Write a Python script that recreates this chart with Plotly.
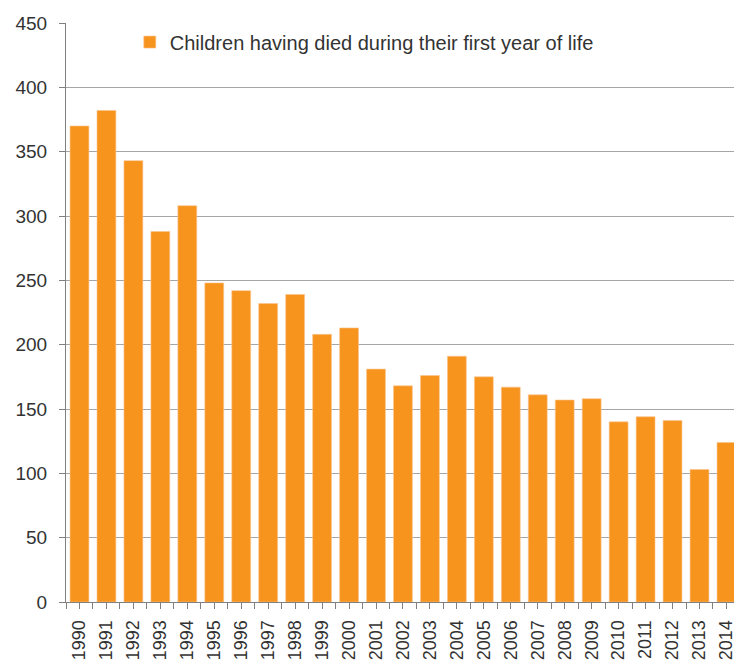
import plotly.graph_objects as go

years = [str(y) for y in range(1990, 2015)]
deaths = [370, 382, 343, 288, 308, 248, 242, 232, 239, 208, 213, 181, 168, 176,
          191, 175, 167, 161, 157, 158, 140, 144, 141, 103, 124]
series_name = "Children having died during their first year of life"
y_ticks = [0, 50, 100, 150, 200, 250, 300, 350, 400, 450]

bar_color = "#F7941E"
grid_color = "#A6A6A6"
text_color = "#333333"
font_family = "Liberation Sans, Arial, sans-serif"

fig = go.Figure()
fig.add_trace(go.Bar(
    x=years, y=deaths, name=series_name,
    marker=dict(color=bar_color, line=dict(color="#FAC590", width=0.6)),
    showlegend=True,
))
# invisible trace on an overlaid numeric axis, used only for centre tick marks
fig.add_trace(go.Scatter(x=[0], y=[0], xaxis="x2", mode="markers",
                         marker=dict(opacity=0), showlegend=False, hoverinfo="skip"))

x_range = [-0.5, 24.28]
fig.update_layout(
    width=736, height=662,
    margin=dict(l=66, r=0, t=23, b=60),
    paper_bgcolor="white", plot_bgcolor="white",
    font=dict(family=font_family, color=text_color, size=18),
    bargap=0.3,
    showlegend=True,
    legend=dict(x=0.0955, y=0.967, xanchor="left", yanchor="middle",
                font=dict(size=20, color=text_color), bgcolor="rgba(0,0,0,0)",
                itemwidth=30),
    xaxis=dict(
        type="category", range=x_range,
        tickangle=-90, tickfont=dict(size=18, color=text_color),
        ticks="outside", ticklen=6, tickcolor="#808080", tickson="boundaries",
        ticklabelstandoff=10,
        showline=True, linecolor="#808080", linewidth=1,
        showgrid=False,
    ),
    xaxis2=dict(
        overlaying="x", range=x_range, showticklabels=False,
        ticks="outside", ticklen=6, tickcolor="#808080",
        tickvals=list(range(len(years))), showgrid=False, zeroline=False,
        anchor="y", side="bottom",
    ),
    yaxis=dict(
        range=[0, 450], tickvals=y_ticks,
        tickfont=dict(size=19, color=text_color),
        ticks="outside", ticklen=6, tickcolor="#808080",
        ticklabelstandoff=8,
        showline=True, linecolor="#808080", linewidth=1,
        showgrid=True, gridcolor=grid_color, gridwidth=1,
        zeroline=False,
    ),
)

fig.write_html("out.html")
